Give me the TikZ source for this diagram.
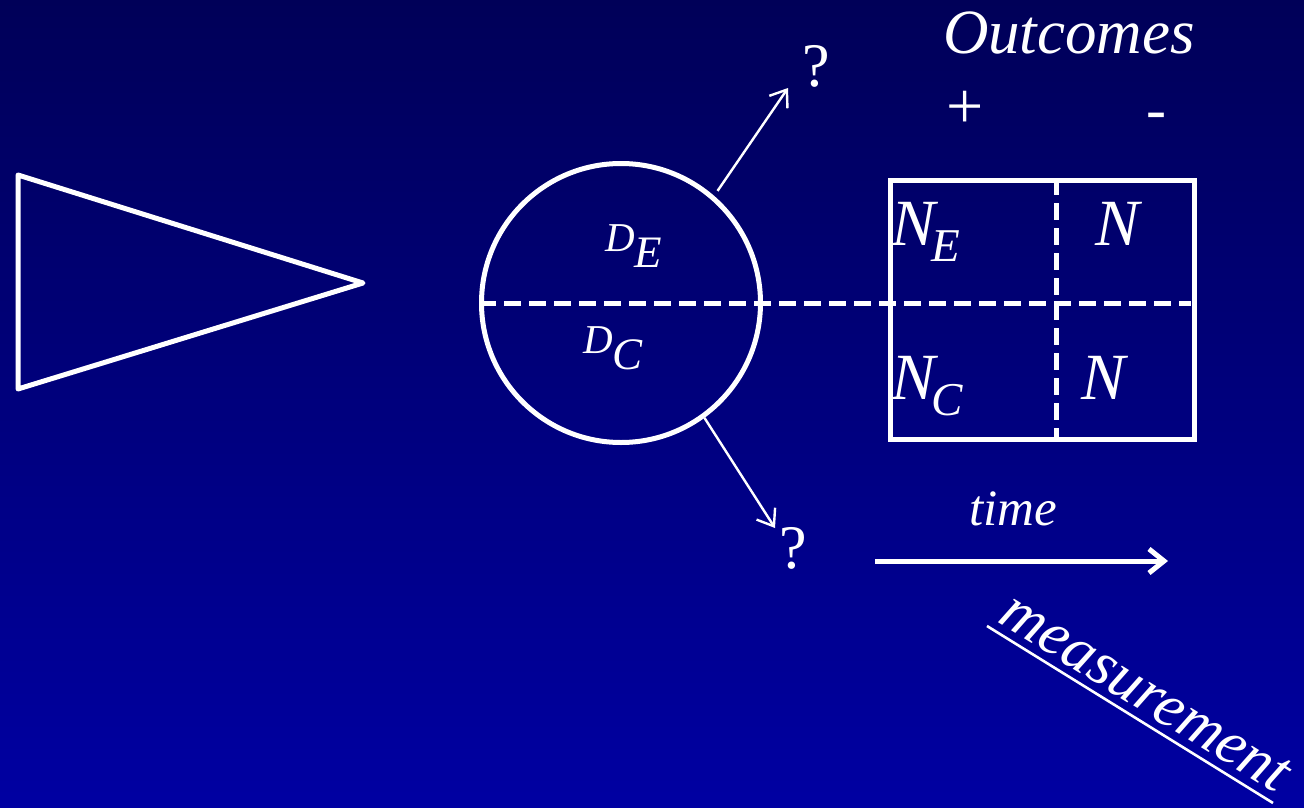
\documentclass[tikz,border=0pt]{standalone}
\usepackage{fontspec}
\setmainfont{Liberation Serif}
\usetikzlibrary{arrows.meta,calc}
\definecolor{bgtop}{RGB}{0,0,88}
\definecolor{bgbot}{RGB}{0,0,162}
\newcommand{\fs}[1]{\fontsize{#1}{#1}\selectfont}
\begin{document}
\begin{tikzpicture}[x=1pt,y=-1pt,
  wl/.style={draw=white,line width=5pt},
  dashline/.style={draw=white,line width=5pt,dash pattern=on 17pt off 8pt},
  tarrow/.style={draw=white,line width=2.4pt,-{Straight Barb[length=15pt,width=22pt]}},
  lbl/.style={text=white,inner sep=0pt,outer sep=0pt},
]
\useasboundingbox (0,0) rectangle (1304,808);
\shade[top color=bgtop,bottom color=bgbot] (0,0) rectangle (1304,808);

% triangle
\draw[wl,line join=round] (18,175) -- (363,283) -- (18,389) -- cycle;

% circle
\node[circle,wl,minimum size=279pt,inner sep=0pt] (c) at (621,303) {};
% box
\node[wl,minimum width=304pt,minimum height=259pt,inner sep=0pt] (box) at (1042.5,310) {};

% dashed lines
\draw[dashline] (c.west) -- ($(c.west -| box.east)+(-6,0)$);
\draw[dashline] ($(box.north west)+(168,0)$) -- ($(box.south west)+(168,0)$);

% labels in circle
\node[lbl,anchor=base west] (de) at (605,251) {\fs{41}\itshape D\raisebox{-16pt}{\fs{45}E}};
\node[lbl,anchor=base west] (dc) at (583,353) {\fs{41}\itshape D\raisebox{-16pt}{\fs{45}C}};

% labels in box
\node[lbl,anchor=base west] (ne) at (891,245) {\fs{66}\itshape N\kern-4pt\raisebox{-16pt}{\fs{47}E}};
\node[lbl,anchor=base west] (n1) at (1095,245) {\fs{66}\itshape N};
\node[lbl,anchor=base west] (nc) at (891,399) {\fs{66}\itshape N\kern-4pt\raisebox{-16pt}{\fs{47}C}};
\node[lbl,anchor=base west] (n2) at (1081,399) {\fs{66}\itshape N};

% outcomes
\node[lbl,anchor=base west] (out) at (943,54) {\fs{63}\itshape Outcomes};
\node[lbl] (plus) at (965,110) {\fs{66}+};
\node[lbl,anchor=base] (minus) at (1156,129) {\fs{60}-};

% question marks and arrows
\node[lbl,anchor=base] (qa) at (816,87) {\fs{62}?};
\node[lbl,anchor=base] (qb) at (793,568) {\fs{62}?};
\coordinate (q1) at (788,88);
\coordinate (q2) at (775,528);
\draw[tarrow,shorten <=6pt] (c.49) -- (q1);
\draw[tarrow] (c.-54) -- (q2);

% time
\node[lbl,anchor=base west] (time) at (969,525) {\fs{51}\itshape time};
\coordinate (t0) at (875,561);
\coordinate (t1) at (1168,561);
\draw[draw=white,line width=5pt,-{Straight Barb[length=15pt,width=24pt]}] (t0) -- (t1);

% measurement
\coordinate (m0) at (987,626);
\coordinate (m1) at (1273,803);
\draw[draw=white,line width=2.6pt] (m0) -- (m1);
\node[lbl,rotate=-31.7] (meas) at (1145,693) {\fs{62}\itshape measurement};
\end{tikzpicture}
\end{document}
